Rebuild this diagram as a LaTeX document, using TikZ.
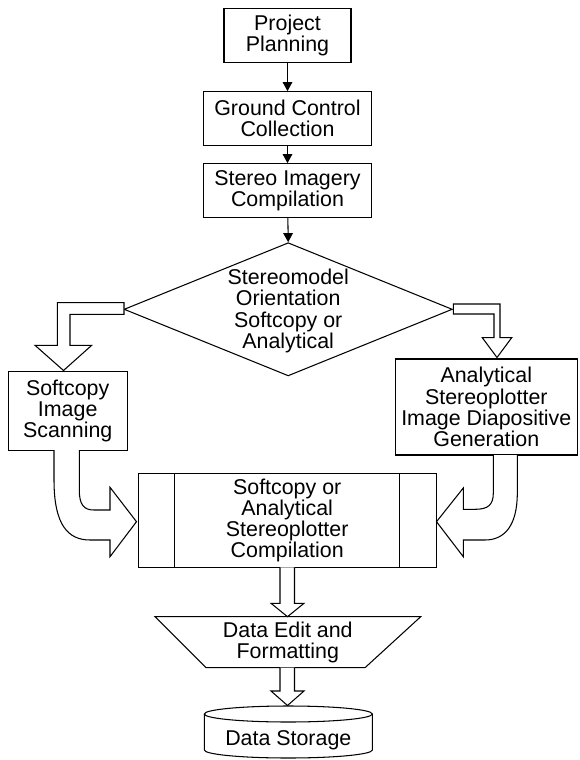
\documentclass[tikz,border=0pt]{standalone}
\usepackage{fontspec}
\setmainfont{Liberation Sans}
\usetikzlibrary{arrows.meta,shapes.geometric,calc}
\begin{document}
\begin{tikzpicture}[x=1pt,y=-1pt,
  every node/.style={font=\fontsize{21.4}{21.2}\selectfont},
  lw/.style={line width=1.05pt},
  box/.style={lw,draw,align=center,inner sep=0pt},
  txt/.style={align=center,inner sep=0pt},
  arr/.style={lw,-{Triangle[length=9pt,width=9.5pt]}},
  blockarrow/.style={lw,draw,fill=white,line join=miter}]
\useasboundingbox (0,0) rectangle (579,760);

% top chain
\node[box,minimum width=127pt,minimum height=54pt] (pp) at (287.5,35.3) {Project\\Planning};
\node[box,minimum width=168.4pt,minimum height=54pt] (gc) at (287.5,118.7) {Ground Control\\Collection};
\node[box,minimum width=168.4pt,minimum height=54pt] (st) at (287.5,190.7) {Stereo Imagery\\Compilation};
\node[lw,draw,diamond,minimum width=328.3pt,minimum height=133.2pt,inner sep=0pt] (dia) at (288.2,309.3) {};
\node[txt] (diatext) at (288.2,311) {Stereomodel\\Orientation\\Softcopy or\\Analytical};

\draw[arr] (pp) -- (gc);
\draw[arr] (gc) -- (st);
\draw[arr] (st) -- (dia.north);

% side boxes
\node[box,minimum width=119pt,minimum height=78.3pt] (sc) at (67.7,411) {Softcopy\\Image\\Scanning};
\node[box,minimum width=182.5pt,minimum height=96pt] (an) at (486.3,407) {Analytical\\Stereoplotter\\Image Diapositive\\Generation};

% main compilation box
\node[box,minimum width=297.7pt,minimum height=94pt] (mb) at (287.2,520.3) {Softcopy or\\Analytical\\Stereoplotter\\Compilation};
\draw[lw] ($(mb.north west)+(36.7,0)$) -- ($(mb.south west)+(36.7,0)$);
\draw[lw] ($(mb.north east)+(-37,0)$) -- ($(mb.south east)+(-37,0)$);

% trapezoid
\coordinate (t1) at (155,616.7);
\coordinate (t2) at (420.7,616.7);
\coordinate (t3) at (365,667.7);
\coordinate (t4) at (206,667.7);
\draw[lw,line join=miter] (t1) -- (t2) -- (t3) -- (t4) -- cycle;
\node[txt] (ed) at (287.8,642.5) {Data Edit and\\Formatting};

% cylinder
\draw[lw] (204.3,714) -- (204.3,750) arc[start angle=180,end angle=360,x radius=84pt,y radius=8pt] -- (372.3,714);
\draw[lw] (288.3,714) ellipse[x radius=84pt,y radius=8pt];
\node[txt] (ds) at (288.3,740) {Data Storage};

% block arrow: diamond to softcopy
\draw[blockarrow] (124,302.7) -- (57.3,302.7) -- (57.3,345.3) -- (35,345.3) -- (63.5,370.5)
  -- (91.7,345.3) -- (70,345.3) -- (70,314.3) -- (124,314.3) -- cycle;
% block arrow: diamond to analytical
\draw[blockarrow] (453.3,304) -- (500,304) -- (500,337.7) -- (511.7,337.7) -- (497,357.5)
  -- (482.3,337.7) -- (494,337.7) -- (494,314) -- (453.3,314) -- cycle;

% curved block arrow left
\draw[blockarrow] (79.3,450) -- (79.3,490) .. controls (79.3,505) and (84,510) .. (94,510)
  -- (110,510) -- (110,487.3) -- (136.5,521.7) -- (110,556.7) -- (110,540) -- (90,540)
  .. controls (68,540) and (54,525) .. (54,480) -- (54,450);
% curved block arrow right
\draw[blockarrow] (493.3,455) -- (493.3,493) .. controls (493.3,505) and (488,509.3) .. (475,509.3)
  -- (463.3,509.3) -- (463.3,488) -- (436.5,521.7) -- (463.3,556.7) -- (463.3,540) -- (485,540)
  .. controls (505,540) and (517.3,525) .. (517.3,493) -- (517.3,455);

% down block arrows
\draw[blockarrow] (280,567.3) -- (280,603.3) -- (271,603.3) -- (287.5,616.7) -- (304,603.3)
  -- (294.5,603.3) -- (294.5,567.3);
\draw[blockarrow] (280,667.7) -- (280,691) -- (271,691) -- (287.5,705.5) -- (304,691)
  -- (294.5,691) -- (294.5,667.7);
\end{tikzpicture}
\end{document}
